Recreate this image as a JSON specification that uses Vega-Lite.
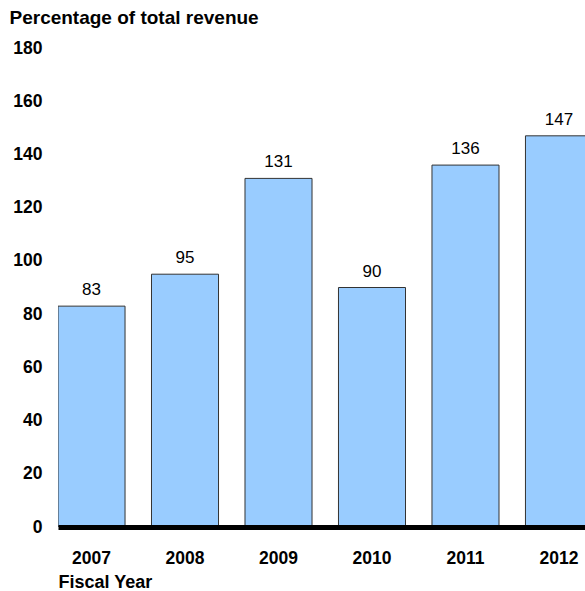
{
  "$schema": "https://vega.github.io/schema/vega-lite/v6.json",
  "width": 527,
  "height": 479,
  "autosize": {"type": "none"},
  "padding": {"left": 58, "top": 48, "right": 0, "bottom": 64},
  "background": "white",
  "config": {
    "view": {"stroke": null},
    "font": "Liberation Sans"
  },
  "data": {
    "values": [
      {"year": "2007", "value": 83},
      {"year": "2008", "value": 95},
      {"year": "2009", "value": 131},
      {"year": "2010", "value": 90},
      {"year": "2011", "value": 136},
      {"year": "2012", "value": 147}
    ]
  },
  "encoding": {
    "x": {
      "field": "year",
      "type": "ordinal",
      "scale": {"range": [0, 534.5], "paddingInner": 0.283, "paddingOuter": 0},
      "axis": {
        "title": "Fiscal Year",
        "titleFont": "Liberation Sans",
        "titleFontSize": 18,
        "titleFontWeight": "bold",
        "titleColor": "black",
        "titleAlign": "left",
        "titleAnchor": "start",
        "titleX": 0,
        "titleY": 60,
        "titleBaseline": "alphabetic",
        "labelAngle": 0,
        "labelFontSize": 17.5,
        "labelFontWeight": "bold",
        "labelColor": "black",
        "labelPadding": 22,
        "ticks": false,
        "domain": true,
        "domainColor": "black",
        "domainWidth": 5,
        "grid": false,
        "zindex": 2
      }
    },
    "y": {
      "field": "value",
      "type": "quantitative",
      "scale": {"domain": [0, 180], "nice": false},
      "axis": {
        "title": "Percentage of total revenue",
        "titleAngle": 0,
        "titleAlign": "left",
        "titleAnchor": "end",
        "titleX": -49,
        "titleY": -25,
        "titleBaseline": "alphabetic",
        "titleFontSize": 19,
        "titleFontWeight": "bold",
        "titleColor": "black",
        "values": [0, 20, 40, 60, 80, 100, 120, 140, 160, 180],
        "labelFontSize": 17.5,
        "labelFontWeight": "bold",
        "labelColor": "black",
        "labelPadding": 16,
        "ticks": false,
        "domain": false,
        "grid": false
      }
    }
  },
  "layer": [
    {
      "mark": {"type": "bar", "fill": "#99CCFF", "stroke": "#333333", "strokeWidth": 1, "clip": true}
    },
    {
      "mark": {"type": "text", "fontSize": 17, "color": "black", "baseline": "alphabetic", "dy": -11, "clip": true},
      "encoding": {"text": {"field": "value", "type": "quantitative"}}
    }
  ]
}
